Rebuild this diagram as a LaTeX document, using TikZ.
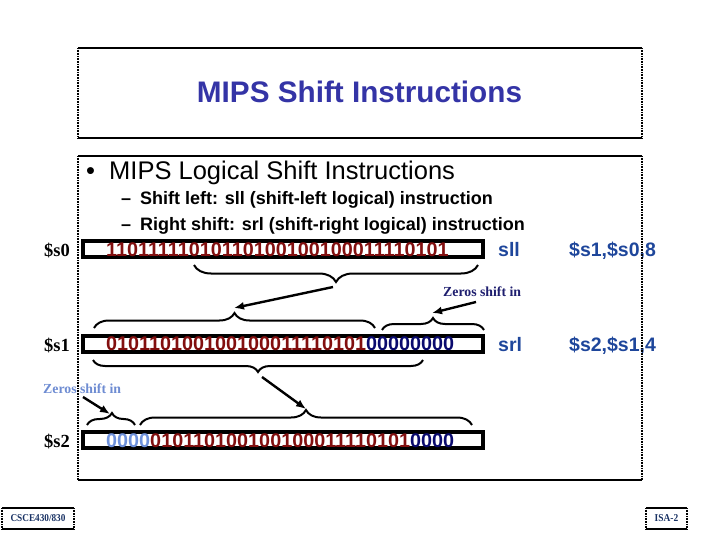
\documentclass[tikz,border=0pt]{standalone}
\usepackage{fontspec}
\setmainfont{Liberation Sans}
\newfontfamily\tmsfont{Liberation Serif}
\usetikzlibrary{decorations.pathreplacing,arrows.meta}
\definecolor{titleblue}{RGB}{52,52,166}
\definecolor{bitred}{RGB}{130,15,15}
\definecolor{zeronavy}{RGB}{10,10,110}
\definecolor{zerolight}{RGB}{110,145,220}
\definecolor{instblue}{RGB}{30,70,155}
\definecolor{notenavy}{RGB}{30,30,110}
\definecolor{notelight}{RGB}{110,140,210}
\definecolor{footblue}{RGB}{25,50,100}
\tikzset{
  solidedge/.style={line width=1.2pt},
  dotedge/.style={line width=2pt, dash pattern=on 0.8pt off 0.8pt},
  regbox/.style={draw, line width=4pt, minimum width=400pt, minimum height=16pt, inner sep=0pt},
  bits/.style={anchor=base west, inner sep=0pt, font=\bfseries\fontsize{19.8}{20}\selectfont},
  reglabel/.style={anchor=base west, inner sep=0pt, font=\tmsfont\bfseries\fontsize{18.5}{20}\selectfont},
  inst/.style={anchor=base west, inner sep=0pt, text=instblue, font=\bfseries\fontsize{19.5}{20}\selectfont},
  note/.style={anchor=base west, inner sep=0pt, font=\tmsfont\bfseries\fontsize{13.8}{15}\selectfont},
  bracestyle/.style={line width=2pt, decorate},
  arr/.style={line width=2.4pt, -{Latex[length=10pt,width=8pt]}},
  foot/.style={inner sep=0pt, text=footblue, font=\tmsfont\bfseries\fontsize{10.5}{11}\selectfont},
}
\begin{document}
\begin{tikzpicture}[x=1pt,y=-1pt]
\useasboundingbox (0,0) rectangle (720,540);

% title
\node[anchor=base, inner sep=0pt, text=titleblue, font=\bfseries\fontsize{29.7}{32}\selectfont] (title) at (359.5,103) {MIPS Shift Instructions};

% bullet text
\node[anchor=base west, inner sep=0pt, font=\fontsize{25.5}{28}\selectfont] (dot) at (86,180) {•};
\node[anchor=base west, inner sep=0pt, font=\fontsize{25.5}{28}\selectfont] (head) at (109,180) {MIPS Logical Shift Instructions};
\node[anchor=base west, inner sep=0pt, font=\bfseries\fontsize{18}{20}\selectfont] (dash1) at (121,205) {–};
\node[anchor=base west, inner sep=0pt, font=\bfseries\fontsize{18}{20}\selectfont] (sub1) at (140,205) {Shift left: sll (shift-left logical) instruction};
\node[anchor=base west, inner sep=0pt, font=\bfseries\fontsize{18}{20}\selectfont] (dash2) at (121,230) {–};
\node[anchor=base west, inner sep=0pt, font=\bfseries\fontsize{18}{20}\selectfont] (sub2) at (140,230) {Right shift: srl (shift-right logical) instruction};

% registers
\node[regbox] (r0) at (283,249) {};
\node[regbox] (r1) at (283,343.5) {};
\node[regbox] (r2) at (283,440) {};
\node[bits, text=bitred] (b0) at (106,256) {11011111010110100100100011110101};
\node[bits] (b1) at (106,350) {\textcolor{bitred}{010110100100100011110101}\textcolor{zeronavy}{00000000}};
\node[bits] (b2) at (106,447) {\textcolor{zerolight}{0000}\textcolor{bitred}{010110100100100011110101}\textcolor{zeronavy}{0000}};
\node[reglabel] (l0) at (44,256) {\$s0};
\node[reglabel] (l1) at (44,351) {\$s1};
\node[reglabel] (l2) at (44,447) {\$s2};

% instructions
\node[inst] (sll) at (498,256) {sll};
\node[inst] (sllargs) at (569,256) {\$s1,\$s0,8};
\node[inst] (srl) at (498,351) {srl};
\node[inst] (srlargs) at (569,351) {\$s2,\$s1,4};

% notes
\node[note, text=notenavy] (z1) at (443,296) {Zeros shift in};
\node[note, text=notelight] (z2) at (43,393) {Zeros shift in};

% braces
\draw[bracestyle, decoration={brace, amplitude=17pt, aspect=0.5}] (478,265) -- (194,265);
\draw[bracestyle, decoration={brace, amplitude=15pt, aspect=0.5}] (94,328) -- (375,328);
\draw[bracestyle, decoration={brace, amplitude=12pt, aspect=0.5}] (382,330) -- (484,330);
\draw[bracestyle, decoration={brace, amplitude=12pt, aspect=0.5}] (423,360) -- (93,360);
\draw[bracestyle, decoration={brace, amplitude=15pt, aspect=0.5}] (140,425) -- (472,425);
\draw[bracestyle, decoration={brace, amplitude=12pt, aspect=0.52}] (87,425) -- (135,425);

% arrows
\coordinate (a1s) at (333,287);
\coordinate (a1e) at (234,308);
\coordinate (a2s) at (476,302);
\coordinate (a2e) at (432,313);
\coordinate (a3s) at (262,377);
\coordinate (a3e) at (306,409);
\coordinate (a4s) at (83,397);
\coordinate (a4e) at (110,414);
\draw[arr] (a1s) -- (a1e);
\draw[arr] (a2s) -- (a2e);
\draw[arr] (a3s) -- (a3e);
\draw[arr] (a4s) -- (a4e);

% frames
\draw[solidedge] (78,48) -- (642,48) (78,138) -- (642,138);
\draw[dotedge] (78,48) -- (78,138) (642,48) -- (642,138);
\draw[solidedge] (78,156) -- (642,156) (78,480) -- (642,480);
\draw[dotedge] (78,156) -- (78,480) (642,156) -- (642,480);

% footer
\node[foot] (f1) at (38,518.5) {\scalebox{0.88}[1]{CSCE430/830}};
\node[foot] (f2) at (666.5,518.5) {\scalebox{0.9}[1]{ISA-2}};
\draw[solidedge] (2,508) -- (74,508) (2,529) -- (74,529) (646,508) -- (687,508) (646,529) -- (687,529);
\draw[dotedge] (2,508) -- (2,529) (74,508) -- (74,529) (646,508) -- (646,529) (687,508) -- (687,529);
\end{tikzpicture}
\end{document}
